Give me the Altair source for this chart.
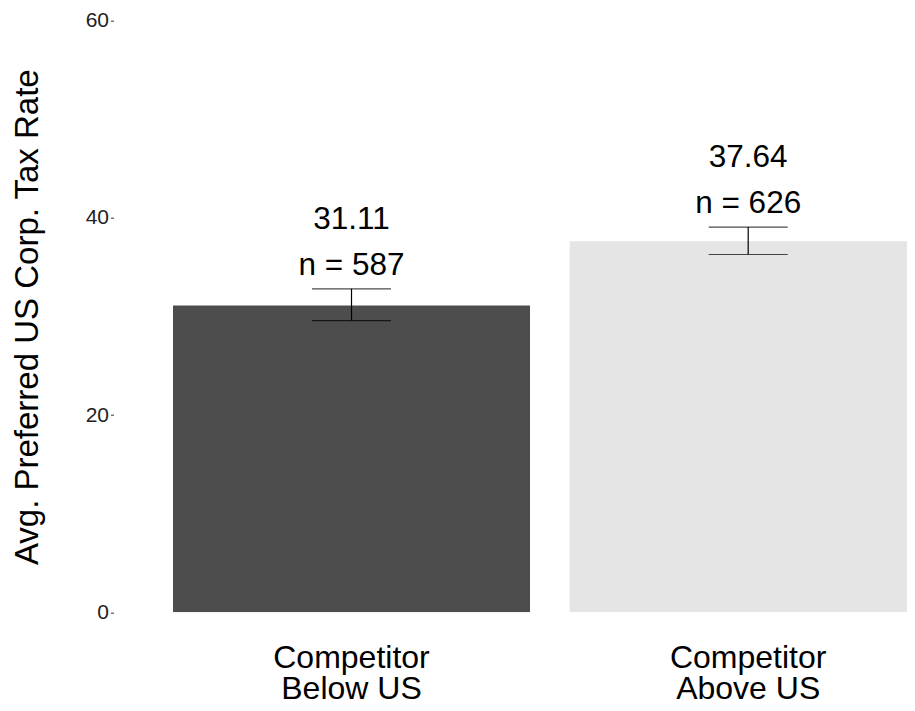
import altair as alt
import pandas as pd

groups = ["Competitor\nBelow US", "Competitor\nAbove US"]
means = [31.11, 37.64]
lower = [29.59, 36.29]
upper = [32.81, 39.07]
ns = [587, 626]
bar_colors = ["#4d4d4d", "#e5e5e5"]
y_ticks = [0, 20, 40, 60]

df = pd.DataFrame({
    "group": groups,
    "mean": means,
    "lower": lower,
    "upper": upper,
    "n": ns,
})
df["mean_label"] = [f"{m:.2f}" for m in means]
df["n_label"] = [f"n = {n}" for n in ns]

FONT = "Liberation Sans"

x_enc = alt.X(
    "group:N",
    sort=groups,
    scale=alt.Scale(range=[0, 872.7], paddingInner=0.1, paddingOuter=0.15),
    axis=alt.Axis(
        title=None, domain=False, ticks=False, grid=False,
        labelFontSize=32, labelFont=FONT, labelColor="#000000",
        labelPadding=30, labelLineHeight=31, labelAngle=0,
        labelExpr="split(datum.label, '\\n')",
    ),
)

y_scale = alt.Scale(domain=[0, 60], nice=False, zero=True)

bars = alt.Chart(df).mark_bar(clip=True).encode(
    x=x_enc,
    y=alt.Y(
        "mean:Q",
        scale=y_scale,
        axis=alt.Axis(
            title="Avg. Preferred US Corp. Tax Rate",
            values=y_ticks, domain=False, grid=False,
            tickSize=3, tickColor="#333333", tickWidth=1,
            labelFontSize=21, labelFont=FONT, labelColor="#222222",
            labelPadding=2,
            titleFontSize=33, titleFont=FONT, titleFontWeight="normal",
            titleColor="#000000", titleAngle=270, titleBaseline="alphabetic",
            titleAlign="center", titleX=-76.5, titleY=296,
        ),
    ),
    color=alt.Color("group:N", scale=alt.Scale(domain=groups, range=bar_colors), legend=None),
)

rules = alt.Chart(df).mark_rule(color="#000000", strokeWidth=1.2).encode(
    x=alt.X("group:N", sort=groups),
    y=alt.Y("lower:Q", scale=y_scale),
    y2="upper:Q",
)

caps_lo = alt.Chart(df).mark_tick(color="#000000", size=79, thickness=1.2, orient="horizontal").encode(
    x=alt.X("group:N", sort=groups),
    y=alt.Y("lower:Q", scale=y_scale),
)
caps_hi = alt.Chart(df).mark_tick(color="#000000", size=79, thickness=1.2, orient="horizontal").encode(
    x=alt.X("group:N", sort=groups),
    y=alt.Y("upper:Q", scale=y_scale),
)

txt_mean = alt.Chart(df).mark_text(
    fontSize=31.5, font=FONT, color="#000000", baseline="alphabetic", align="center", dy=-60
).encode(
    x=alt.X("group:N", sort=groups),
    y=alt.Y("upper:Q", scale=y_scale),
    text="mean_label:N",
)
txt_n = alt.Chart(df).mark_text(
    fontSize=31.5, font=FONT, color="#000000", baseline="alphabetic", align="center", dy=-14
).encode(
    x=alt.X("group:N", sort=groups),
    y=alt.Y("upper:Q", scale=y_scale),
    text="n_label:N",
)

chart = alt.layer(bars, rules, caps_lo, caps_hi, txt_mean, txt_n).properties(
    width=793.5,
    height=591.6,
    padding={"left": 105.5, "top": 12.7, "right": 0, "bottom": 90.7},
    autosize=alt.AutoSizeParams(type="none"),
    background="#ffffff",
).configure_view(stroke=None)

chart.save("out.html", embed_options={"renderer": "svg", "actions": False})
